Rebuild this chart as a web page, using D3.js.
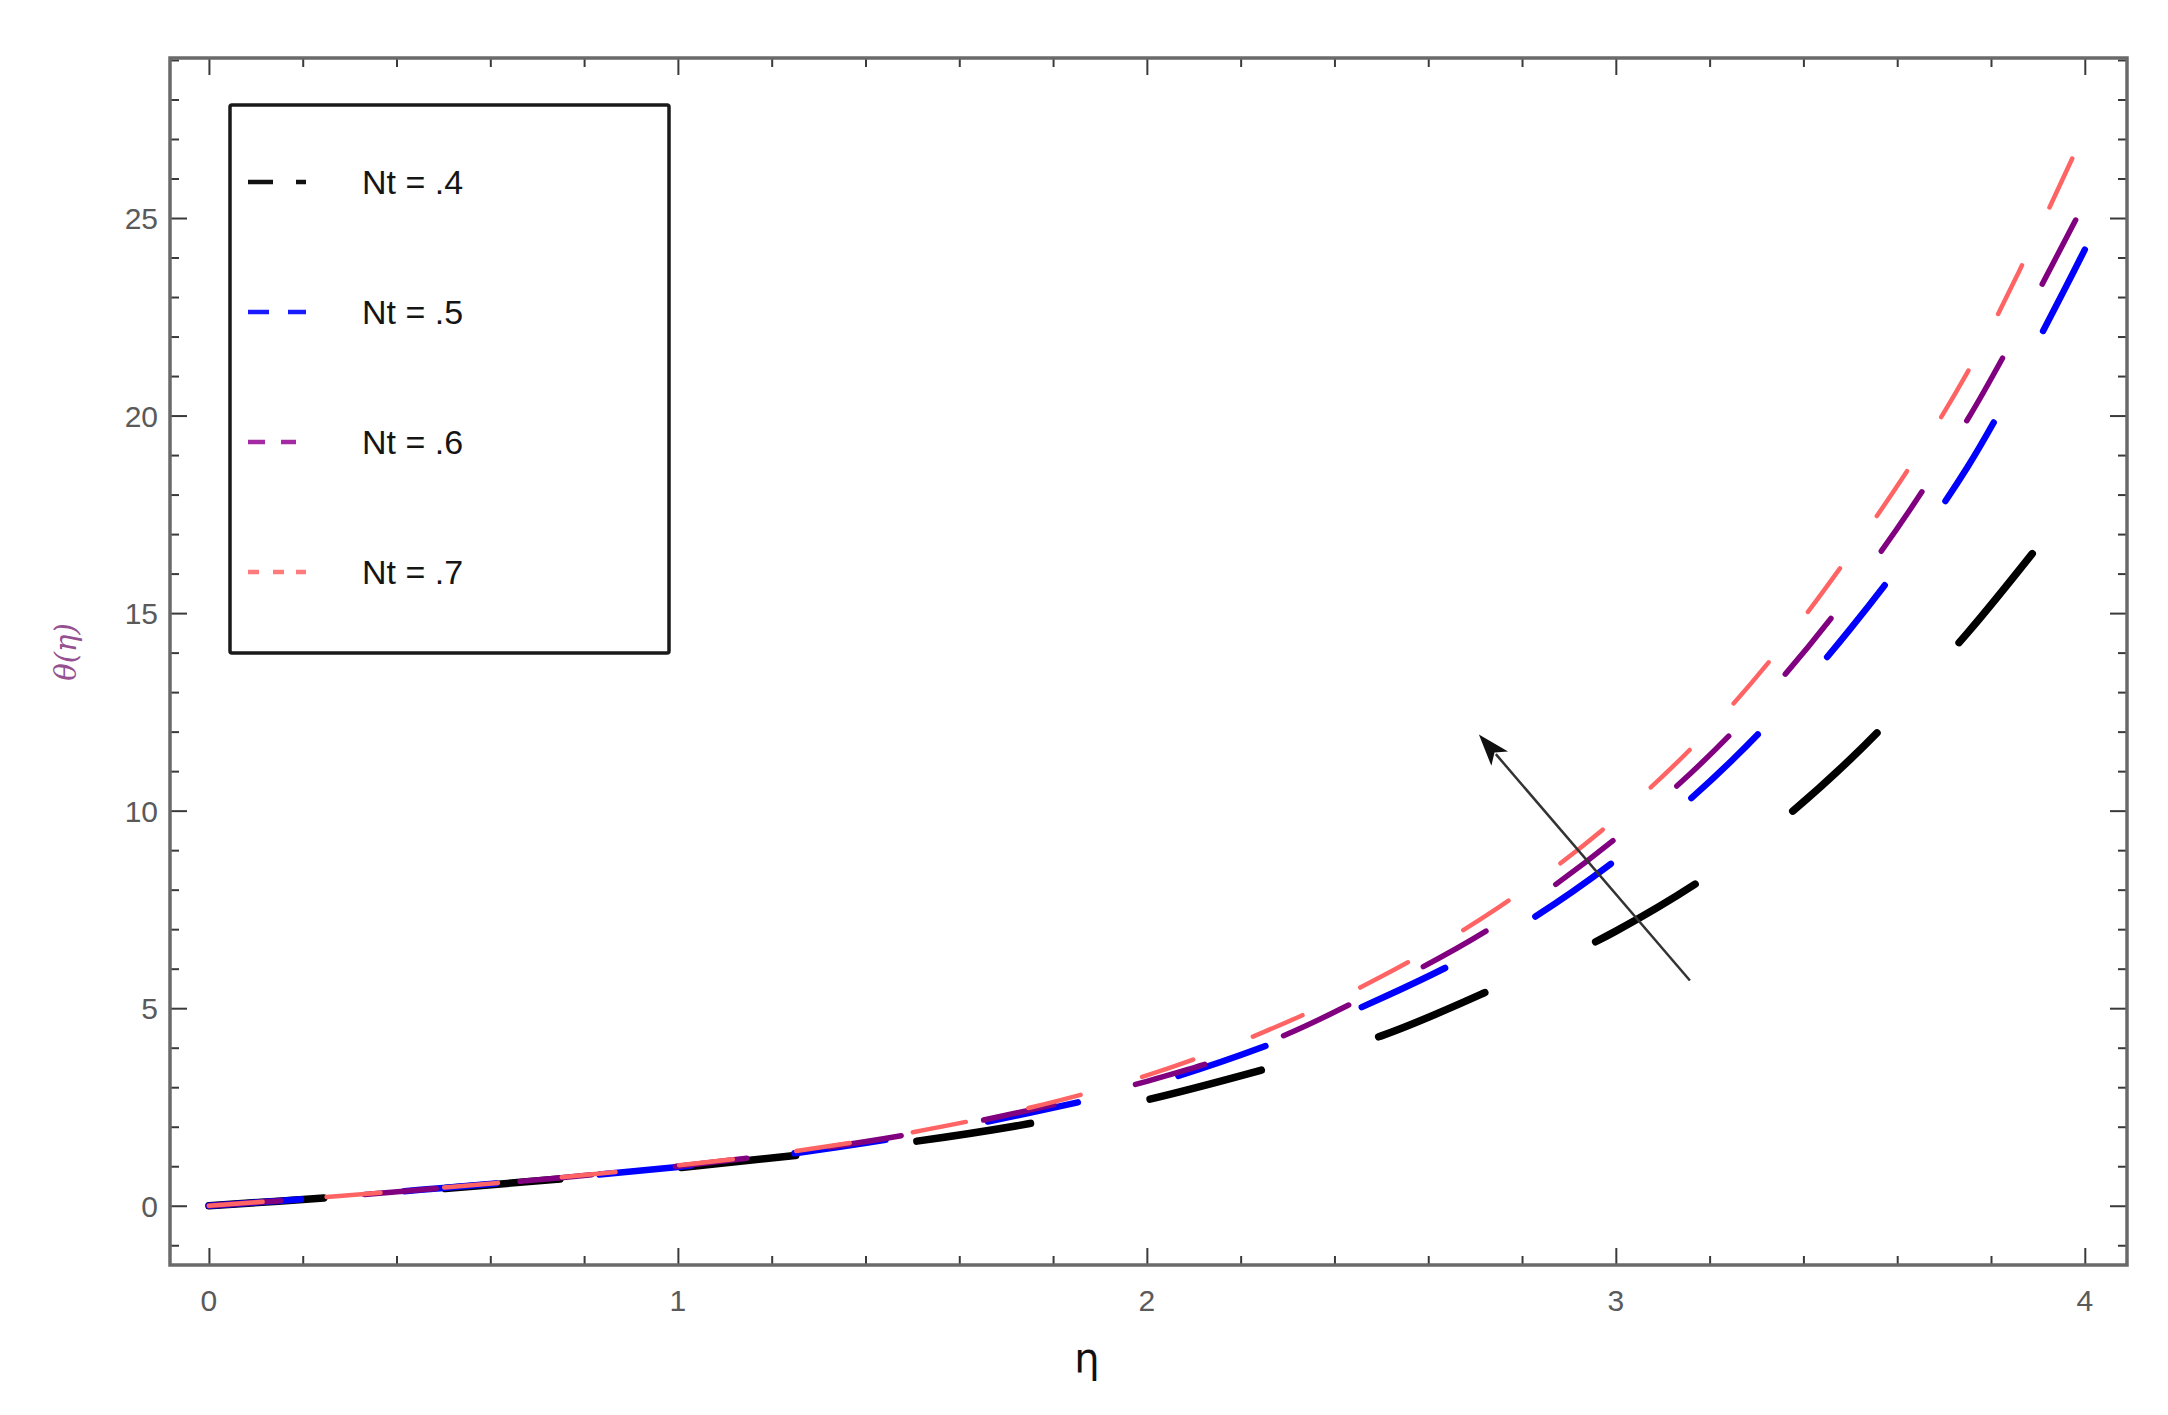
<!DOCTYPE html>
<html>
<head>
<meta charset="utf-8">
<script src="https://cdn.jsdelivr.net/npm/d3@7"></script>
<style>
    html, body { margin: 0; padding: 0; background: white; }
    svg { display: block; }
</style>
</head>
<body>
<div id="container"></div>
<script>
// begin data //

const etaValues = [0, 0.25, 0.5, 0.75, 1, 1.25, 1.5, 1.75, 2, 2.25, 2.5, 2.75, 3, 3.25, 3.5, 3.75, 4]

const thetaNt04 = [0, 0.2, 0.43, 0.68, 0.96, 1.27, 1.62, 2.08, 2.68, 3.45, 4.3, 5.55, 6.95, 8.8, 11.3, 14.5, 18.2]
const thetaNt05 = [0, 0.21, 0.45, 0.7, 0.98, 1.33, 1.78, 2.35, 3.05, 4.03, 5.25, 6.75, 8.75, 11.3, 14.6, 18.7, 24.2]
const thetaNt06 = [0, 0.21, 0.45, 0.71, 1.0, 1.36, 1.82, 2.42, 3.15, 4.1, 5.5, 7.15, 9.3, 12.0, 15.5, 19.9, 25.4]
const thetaNt07 = [0, 0.22, 0.46, 0.72, 1.02, 1.38, 1.86, 2.48, 3.3, 4.4, 5.8, 7.55, 9.8, 12.7, 16.5, 21.1, 27.2]

const seriesLabels = ['Nt = .4', 'Nt = .5', 'Nt = .6', 'Nt = .7']
const seriesValues = [thetaNt04, thetaNt05, thetaNt06, thetaNt07]

const xMajorTicks = [0, 1, 2, 3, 4]
const yMajorTicks = [0, 5, 10, 15, 20, 25]

// arrow annotation, in data units: tail then head
const arrowTail = [3.158, 5.7]
const arrowHead = [2.708, 11.93]

// end data //

// begin styles //

const seriesStyles = [
    { color: '#000000', legendColor: '#111111', width: 7.5, dash: '115,122', legendDash: '25,23,11,100' },
    { color: '#0000ff', legendColor: '#1a1aff', width: 6.5, dash: '92,104', legendDash: '21,19,18,100' },
    { color: '#800080', legendColor: '#a32aa3', width: 5.5, dash: '72,84', legendDash: '17,16,15,100' },
    { color: '#ff6464', legendColor: '#ff7a7a', width: 4.5, dash: '54,64', legendDash: '11,14,11,12,11,100' }
]

const width = 2168
const height = 1415
const frame = { left: 170, right: 2127, top: 58, bottom: 1265 }

// end styles //

const svg = d3
    .select('#container')
    .append('svg')
    .attr('width', width)
    .attr('height', height)

const x = d3.scaleLinear().domain([-0.083, 4.09]).range([frame.left, frame.right])
const y = d3.scaleLinear().domain([-1.5, 29.05]).range([frame.bottom, frame.top])

function xMinorTicks() {
    return d3.range(0, 4.01, 0.2).filter((v) => Math.abs(v - Math.round(v)) > 1e-6)
}

function yMinorTicks() {
    return d3.range(-1, 29.01, 1).filter((v) => v % 5 !== 0)
}

function drawAxes() {
    const g = svg.append('g').attr('class', 'axes')
    const plotW = frame.right - frame.left
    const plotH = frame.bottom - frame.top

    const sides = [
        { axis: d3.axisBottom(x), transform: `translate(0,${frame.bottom})`, major: xMajorTicks, minor: xMinorTicks() },
        { axis: d3.axisTop(x), transform: `translate(0,${frame.top})`, major: xMajorTicks, minor: xMinorTicks() },
        { axis: d3.axisLeft(y), transform: `translate(${frame.left},0)`, major: yMajorTicks, minor: yMinorTicks() },
        { axis: d3.axisRight(y), transform: `translate(${frame.right},0)`, major: yMajorTicks, minor: yMinorTicks() }
    ]

    // ticks point inward, like a Mathematica frame
    sides.forEach((side) => {
        const a = side.axis
        const mk = (len, values) =>
            g.append('g')
                .attr('transform', side.transform)
                .call(a.tickValues(values).tickSize(-len).tickSizeOuter(0).tickFormat(() => ''))

        mk(9, side.minor).select('.domain').remove()
        mk(17, side.major).select('.domain').remove()
    })
    g.selectAll('.tick line').attr('stroke', '#3a3a3a').attr('stroke-width', 2)

    g.append('rect')
        .attr('x', frame.left)
        .attr('y', frame.top)
        .attr('width', plotW)
        .attr('height', plotH)
        .attr('fill', 'none')
        .attr('stroke', '#6a6a6a')
        .attr('stroke-width', 3.5)

    // tick labels
    g.selectAll('text.xlab')
        .data(xMajorTicks)
        .join('text')
        .attr('class', 'xlab')
        .attr('x', (d) => x(d))
        .attr('y', frame.bottom + 46)
        .attr('text-anchor', 'middle')
        .attr('font-family', 'Liberation Sans, Arial, sans-serif')
        .attr('font-size', 30)
        .attr('fill', '#5a5a5a')
        .text((d) => d)

    g.selectAll('text.ylab')
        .data(yMajorTicks)
        .join('text')
        .attr('class', 'ylab')
        .attr('x', frame.left - 12)
        .attr('y', (d) => y(d) + 11)
        .attr('text-anchor', 'end')
        .attr('font-family', 'Liberation Sans, Arial, sans-serif')
        .attr('font-size', 30)
        .attr('fill', '#5a5a5a')
        .text((d) => d)

    // axis titles
    svg.append('text')
        .attr('x', 1087)
        .attr('y', 1372)
        .attr('text-anchor', 'middle')
        .attr('font-family', 'DejaVu Sans, sans-serif')
        .attr('font-size', 40)
        .attr('fill', '#111')
        .text('η')

    svg.append('text')
        .attr('transform', 'translate(76,652) rotate(-90)')
        .attr('text-anchor', 'middle')
        .attr('font-family', 'DejaVu Serif, serif')
        .attr('font-style', 'italic')
        .attr('font-size', 29)
        .attr('fill', '#94508f')
        .text('θ(η)')
}

function drawCurves() {
    const line = d3
        .line()
        .x((d) => x(d[0]))
        .y((d) => y(d[1]))
        .curve(d3.curveCatmullRom.alpha(0.5))

    const data = seriesValues.map((vals, i) => ({
        points: etaValues.map((eta, j) => [eta, vals[j]]),
        style: seriesStyles[i]
    }))

    svg.append('g')
        .attr('class', 'curves')
        .selectAll('path')
        .data(data)
        .join('path')
        .attr('d', (d) => line(d.points))
        .attr('fill', 'none')
        .attr('stroke', (d) => d.style.color)
        .attr('stroke-width', (d) => d.style.width)
        .attr('stroke-dasharray', (d) => d.style.dash)
        .attr('stroke-linecap', 'round')
}

function drawArrow() {
    const x0 = x(arrowTail[0])
    const y0 = y(arrowTail[1])
    const x1 = x(arrowHead[0])
    const y1 = y(arrowHead[1])
    const ang = Math.atan2(y1 - y0, x1 - x0)
    const headLen = 32
    const headHalf = 11
    const bx = x1 - headLen * Math.cos(ang)
    const by = y1 - headLen * Math.sin(ang)
    const px = -Math.sin(ang) * headHalf
    const py = Math.cos(ang) * headHalf

    const g = svg.append('g').attr('class', 'arrow')
    g.append('line')
        .attr('x1', x0)
        .attr('y1', y0)
        .attr('x2', bx + 6 * Math.cos(ang))
        .attr('y2', by + 6 * Math.sin(ang))
        .attr('stroke', '#333')
        .attr('stroke-width', 2.5)
    g.append('path')
        .attr('d', `M${x1},${y1}L${bx + px},${by + py}L${bx + 8 * Math.cos(ang)},${by + 8 * Math.sin(ang)}L${bx - px},${by - py}Z`)
        .attr('fill', '#111')
}

function drawLegend() {
    const g = svg.append('g').attr('class', 'legend')
    g.append('rect')
        .attr('x', 230)
        .attr('y', 105)
        .attr('width', 439)
        .attr('height', 548)
        .attr('rx', 2)
        .attr('fill', 'white')
        .attr('stroke', '#1a1a1a')
        .attr('stroke-width', 3.5)

    const rowY = d3.scalePoint().domain(seriesLabels).range([182, 572])

    seriesLabels.forEach((label, i) => {
        const st = seriesStyles[i]
        g.append('line')
            .attr('x1', 248)
            .attr('x2', 306)
            .attr('y1', rowY(label))
            .attr('y2', rowY(label))
            .attr('stroke', st.legendColor)
            .attr('stroke-width', 4.5)
            .attr('stroke-dasharray', st.legendDash)
        g.append('text')
            .attr('x', 362)
            .attr('y', rowY(label) + 12)
            .attr('font-family', 'Liberation Sans, Arial, sans-serif')
            .attr('font-size', 34)
            .attr('fill', '#151515')
            .text(label)
    })
}

drawAxes()
drawCurves()
drawArrow()
drawLegend()
</script>
</body>
</html>
